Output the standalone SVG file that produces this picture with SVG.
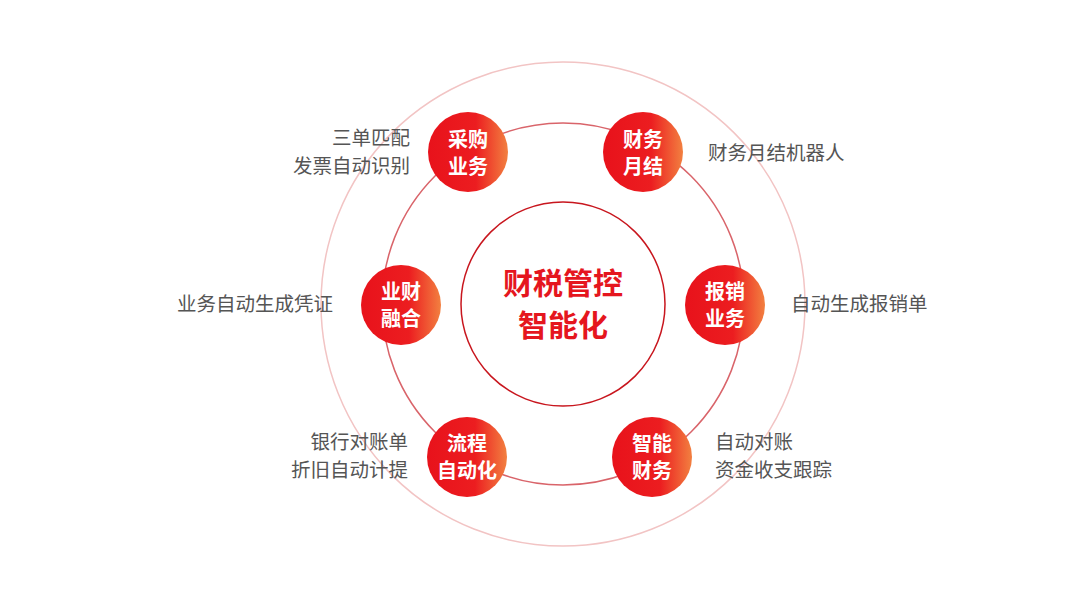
<svg xmlns="http://www.w3.org/2000/svg" width="1067" height="605" viewBox="0 0 1067 605">
<defs>
<linearGradient id="g" x1="0" y1="0" x2="1" y2="0">
<stop offset="0" stop-color="#e8121b"/><stop offset="0.6" stop-color="#ec1d20"/><stop offset="1" stop-color="#f28040"/>
</linearGradient>
</defs>
<style>
.n{fill:url(#g)}
.nt{font-family:"Noto Sans CJK SC",sans-serif;font-weight:bold;font-size:20px;fill:#fff;text-anchor:middle}
.l{font-family:"Noto Sans CJK SC",sans-serif;font-size:19.5px;fill:#555}
.c{font-family:"Noto Sans CJK SC",sans-serif;font-weight:bold;font-size:30px;fill:#e5161e;text-anchor:middle}
.r{fill:none}
</style>
<rect width="1067" height="605" fill="#fff"/>
<g id="connectors">
<circle class="r" cx="563" cy="304" r="242" stroke="#f2c4c4" stroke-width="1.5"/>
<circle class="r" cx="563" cy="304" r="181" stroke="#d9646a" stroke-width="1.5"/>
<circle class="r" cx="563" cy="304" r="102" stroke="#c8161e" stroke-width="1.5"/>
</g>
<g id="center">
<text class="c" x="563" y="294">财税管控</text>
<text class="c" x="563" y="336">智能化</text>
</g>
<g id="n1"><circle class="n" cx="468" cy="152" r="40"/><text class="nt" x="468" y="147">采购</text><text class="nt" x="468" y="174">业务</text>
<text class="l" x="410" y="145" text-anchor="end">三单匹配</text><text class="l" x="410" y="173" text-anchor="end">发票自动识别</text></g>
<g id="n2"><circle class="n" cx="643" cy="152" r="40"/><text class="nt" x="643" y="147">财务</text><text class="nt" x="643" y="174">月结</text>
<text class="l" x="708" y="160">财务月结机器人</text></g>
<g id="n3"><circle class="n" cx="401" cy="305" r="40"/><text class="nt" x="401" y="299">业财</text><text class="nt" x="401" y="326">融合</text>
<text class="l" x="333" y="311" text-anchor="end">业务自动生成凭证</text></g>
<g id="n4"><circle class="n" cx="725" cy="305" r="40"/><text class="nt" x="725" y="299">报销</text><text class="nt" x="725" y="326">业务</text>
<text class="l" x="791" y="311">自动生成报销单</text></g>
<g id="n5"><circle class="n" cx="467" cy="457" r="40"/><text class="nt" x="467" y="451">流程</text><text class="nt" x="467" y="478">自动化</text>
<text class="l" x="408" y="449" text-anchor="end">银行对账单</text><text class="l" x="408" y="477" text-anchor="end">折旧自动计提</text></g>
<g id="n6"><circle class="n" cx="652" cy="457" r="40"/><text class="nt" x="652" y="451">智能</text><text class="nt" x="652" y="478">财务</text>
<text class="l" x="715" y="449">自动对账</text><text class="l" x="715" y="477">资金收支跟踪</text></g>
</svg>
